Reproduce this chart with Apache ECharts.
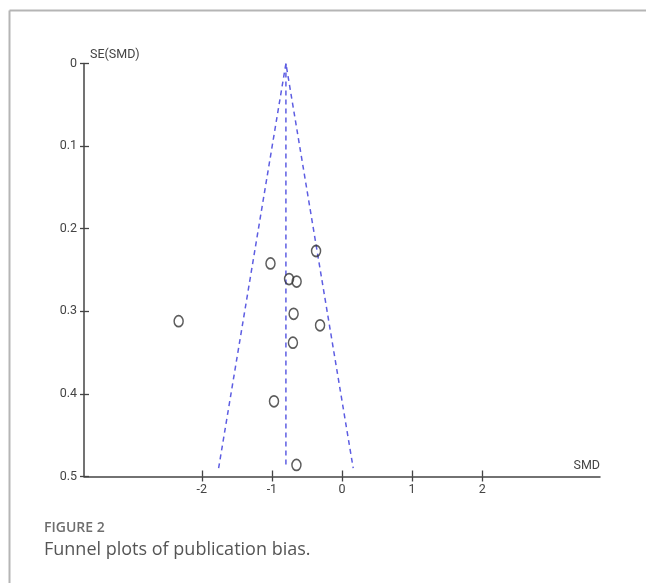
<!DOCTYPE html>
<html>
<head>
<meta charset="utf-8">
<script src="https://cdn.jsdelivr.net/npm/echarts@6/dist/echarts.min.js"></script>
<style>
  html, body { margin: 0; padding: 0; background: #fff; }
  #chart { width: 646px; height: 583px; }
</style>
</head>
<body>
<div id="chart"></div>
<script>
// study points
const studySmd = [-0.37, -1.02, -0.755, -0.647, -0.69, -2.33, -0.313, -0.70, -0.97, -0.65];
const studySe = [0.227, 0.242, 0.261, 0.264, 0.303, 0.312, 0.317, 0.338, 0.409, 0.486];

// funnel (pseudo 95% limits) and pooled line
const funnelSmd = [-1.76, -0.80, 0.16];
const funnelSe = [0.49, 0, 0.49];
const pooledSmd = -0.80;
const pooledSe = [0, 0.49];

const xTicks = [-2, -1, 0, 1, 2];
const yTicks = [0, 0.1, 0.2, 0.3, 0.4, 0.5];

const axisFont = "Roboto, 'Liberation Sans', sans-serif";
const blue = '#5d5de2';
const plotW = 646 - 84 - 46;
const plotH = 583 - 63.5 - 106.5;

const chart = echarts.init(document.getElementById('chart'));

chart.setOption({
  animation: false,
  grid: { left: 84, right: 46, top: 63.5, bottom: 106.5 },
  xAxis: [
    {
      type: 'value',
      min: -3.68,
      max: 3.68,
      position: 'bottom',
      name: 'SMD',
      nameLocation: 'end',
      nameGap: 0,
      nameTextStyle: {
        fontFamily: axisFont, fontSize: 12.5, color: '#444',
        align: 'right', verticalAlign: 'bottom', padding: [0, 0, 4, 0]
      },
      axisLine: { onZero: false, lineStyle: { color: '#444', width: 1.5 } },
      axisTick: { inside: true, length: 6, customValues: xTicks, lineStyle: { color: '#444', width: 1.3 } },
      axisLabel: { customValues: xTicks, fontFamily: axisFont, fontSize: 12.5, color: '#444', margin: 7 },
      splitLine: { show: false }
    },
    {
      // second copy only for the ticks that poke below the axis line
      type: 'value',
      min: -3.68,
      max: 3.68,
      position: 'top',
      offset: -plotH,
      axisLine: { show: false, onZero: false },
      axisTick: { inside: true, length: 5, customValues: xTicks, lineStyle: { color: '#444', width: 1.3 } },
      axisLabel: { show: false },
      splitLine: { show: false }
    }
  ],
  yAxis: [
    {
      type: 'value',
      inverse: true,
      min: 0,
      max: 0.5,
      interval: 0.1,
      position: 'left',
      name: 'SE(SMD)',
      nameLocation: 'start',
      nameGap: 2,
      nameTextStyle: {
        fontFamily: axisFont, fontSize: 12.5, color: '#444',
        align: 'left', verticalAlign: 'bottom', padding: [0, 0, 0, 6]
      },
      axisLine: { onZero: false, lineStyle: { color: '#444', width: 1.5 } },
      axisTick: { inside: false, length: 4, customValues: yTicks, lineStyle: { color: '#444', width: 1.3 } },
      axisLabel: { fontFamily: axisFont, fontSize: 12.5, color: '#444', margin: 7 },
      splitLine: { show: false }
    },
    {
      type: 'value',
      inverse: true,
      min: 0,
      max: 0.5,
      interval: 0.1,
      position: 'right',
      offset: -plotW,
      axisLine: { show: false, onZero: false },
      axisTick: { inside: false, length: 5, customValues: yTicks, lineStyle: { color: '#444', width: 1.3 } },
      axisLabel: { show: false },
      splitLine: { show: false }
    }
  ],
  series: [
    {
      type: 'line',
      data: funnelSmd.map((x, i) => [x, funnelSe[i]]),
      symbol: 'none',
      lineStyle: { color: blue, width: 1.5, type: [5, 4] },
      z: 2
    },
    {
      type: 'line',
      data: pooledSe.map((y) => [pooledSmd, y]),
      symbol: 'none',
      lineStyle: { color: blue, width: 1.5, type: [5, 4] },
      z: 2
    },
    {
      type: 'scatter',
      data: studySmd.map((x, i) => [x, studySe[i]]),
      symbol: 'circle',
      symbolSize: [9, 11],
      itemStyle: { color: 'rgba(0,0,0,0)', borderColor: '#333', borderWidth: 1.6 },
      z: 3
    }
  ],
  graphic: [
    { type: 'line', shape: { x1: 9.5, y1: 10.5, x2: 646, y2: 10.5 }, style: { stroke: '#b5b5b5', lineWidth: 2 } },
    { type: 'line', shape: { x1: 9.5, y1: 10.5, x2: 9.5, y2: 583 }, style: { stroke: '#b5b5b5', lineWidth: 2 } },
    {
      type: 'text', left: 44, top: 521,
      style: { text: 'FIGURE 2', font: "600 14px 'Open Sans', 'Noto Sans', sans-serif", fill: '#6e6e6e' }
    },
    {
      type: 'text', left: 44, top: 541,
      style: { text: 'Funnel plots of publication bias.', font: "18px 'Open Sans', 'Noto Sans', sans-serif", fill: '#555' }
    }
  ]
});
</script>
</body>
</html>
